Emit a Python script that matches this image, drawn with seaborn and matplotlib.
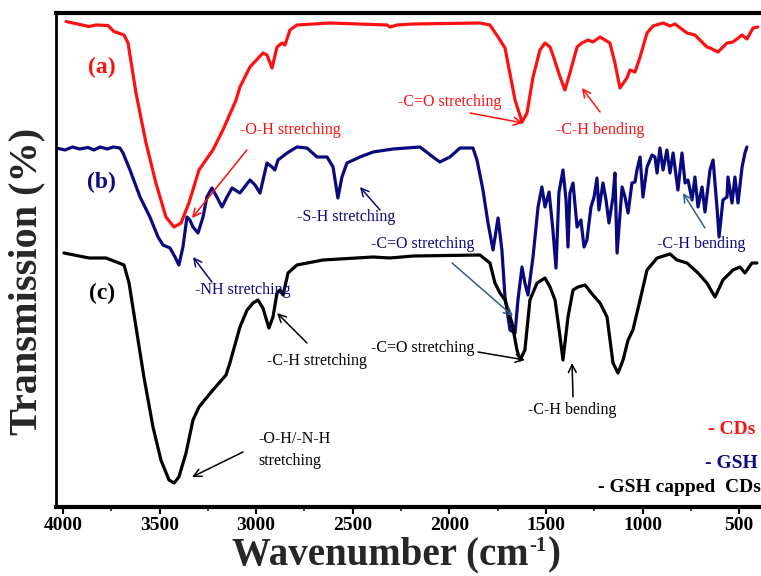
import numpy as np
import pandas as pd
import matplotlib
matplotlib.use("Agg")
import matplotlib.pyplot as plt
import seaborn as sns

# ---------------- data ----------------
cds_wn = [3984, 3865, 3829, 3767, 3736, 3684, 3663, 3622, 3570, 3519, 3467, 3425, 3389, 3348,
          3296, 3224, 3172, 3104, 3084, 3032, 2965, 2944, 2918, 2892, 2866, 2851, 2825, 2789,
          2618, 2323, 2307, 2271, 2188, 1842, 1790, 1748, 1712, 1697, 1660, 1624, 1598, 1567,
          1531, 1505, 1479, 1464, 1427, 1402, 1376, 1339, 1314, 1282, 1257, 1220, 1169, 1143,
          1117, 1081, 1065, 1039, 1013, 977, 946, 894, 858, 832, 770, 729, 667, 651, 610, 563,
          532, 485, 460, 428, 403]
cds_t = [97.7, 96.7, 97.0, 96.9, 95.7, 95.0, 93.4, 83.4, 73.4, 65.4, 58.6, 56.6, 57.4, 61.4,
         68.0, 72.0, 76.0, 82.0, 84.6, 88.6, 91.4, 91.0, 88.4, 92.6, 93.4, 93.0, 96.0, 97.0,
         97.4, 97.0, 96.6, 97.0, 97.2, 97.4, 97.0, 94.6, 92.4, 89.4, 82.0, 77.6, 79.4, 86.6,
         92.0, 93.4, 92.6, 91.0, 86.6, 84.0, 87.4, 92.6, 93.4, 94.0, 93.6, 94.6, 93.4, 89.4,
         84.4, 86.4, 88.0, 87.6, 90.6, 95.4, 96.8, 97.4, 96.8, 97.2, 95.4, 95.0, 92.6, 92.4,
         91.6, 93.4, 93.6, 95.0, 94.2, 96.4, 96.6]

gsh_wn = [4035, 3990, 3950, 3914, 3870, 3840, 3808, 3770, 3740, 3705, 3689, 3653, 3601, 3550,
          3508, 3482, 3446, 3420, 3400, 3379, 3358, 3343, 3327, 3301, 3275, 3255, 3229, 3203,
          3177, 3151, 3125, 3084, 3032, 3006, 2980, 2944, 2918, 2903, 2887, 2840, 2789, 2737,
          2685, 2633, 2602, 2577, 2556, 2530, 2463, 2395, 2292, 2152, 2085, 2049, 1997, 1945,
          1878, 1857, 1826, 1800, 1774, 1748, 1728, 1712, 1686, 1660, 1645, 1624, 1609, 1593,
          1567, 1541, 1521, 1505, 1484, 1464, 1448, 1433, 1412, 1396, 1386, 1376, 1360, 1339,
          1319, 1303, 1288, 1267, 1251, 1236, 1226, 1205, 1189, 1174, 1153, 1143, 1132, 1106,
          1091, 1075, 1055, 1039, 1029, 1013, 998, 977, 951, 936, 925, 910, 894, 874, 858, 842,
          817, 796, 780, 765, 744, 729, 713, 692, 677, 651, 635, 615, 604, 584, 563, 558, 537,
          522, 506, 485, 470, 460]
gsh_t = [72.4, 72.0, 72.6, 72.2, 72.5, 72.0, 72.6, 72.2, 72.6, 72.4, 71.4, 68.0, 62.6, 58.6,
         54.6, 53.0, 52.4, 50.6, 49.0, 52.6, 58.6, 58.0, 56.6, 55.4, 58.6, 62.6, 64.4, 62.6,
         60.6, 62.6, 64.4, 63.4, 66.0, 65.0, 63.4, 69.4, 68.6, 68.0, 70.0, 71.4, 72.6, 72.4,
         70.6, 70.6, 68.6, 62.4, 66.6, 69.4, 70.6, 71.6, 72.2, 72.6, 70.6, 69.6, 70.6, 72.4,
         72.4, 70.0, 64.0, 57.4, 52.0, 58.4, 52.0, 42.6, 36.0, 35.4, 42.0, 48.6, 45.4, 43.0,
         50.6, 60.6, 64.6, 60.6, 63.6, 56.0, 48.4, 63.4, 68.0, 62.0, 52.6, 63.4, 65.4, 56.6,
         58.0, 52.6, 54.0, 60.6, 62.6, 66.4, 60.0, 65.4, 62.0, 57.4, 62.6, 67.4, 51.4, 64.6,
         62.6, 59.4, 65.4, 65.6, 68.0, 70.6, 62.6, 68.6, 71.0, 70.6, 67.4, 72.4, 68.0, 72.0,
         67.4, 71.4, 64.0, 71.4, 65.4, 66.0, 62.0, 66.6, 60.6, 64.6, 59.6, 68.0, 70.0, 60.6,
         54.6, 62.0, 62.6, 66.6, 61.4, 66.6, 61.4, 68.6, 71.4, 72.6]

cap_wn = [3995, 3865, 3777, 3710, 3684, 3658, 3622, 3581, 3534, 3493, 3451, 3425, 3400, 3363,
          3327, 3296, 3224, 3156, 3136, 3084, 3047, 3016, 2991, 2965, 2934, 2913, 2892, 2877,
          2861, 2835, 2789, 2654, 2395, 2307, 2188, 1842, 1790, 1764, 1738, 1712, 1676, 1650,
          1634, 1609, 1583, 1546, 1505, 1479, 1453, 1427, 1412, 1386, 1360, 1334, 1298, 1257,
          1220, 1184, 1153, 1127, 1101, 1075, 1050, 1013, 977, 925, 858, 822, 770, 713, 667,
          625, 584, 532, 496, 470, 434, 408]
cap_t = [51.4, 50.4, 50.4, 49.4, 49.0, 45.4, 36.6, 26.6, 16.6, 10.0, 6.0, 5.4, 6.6, 11.4,
         18.0, 20.6, 24.0, 27.0, 29.4, 36.6, 40.0, 41.4, 42.0, 40.4, 36.4, 38.6, 43.4, 44.0,
         43.0, 47.4, 49.0, 50.0, 50.6, 50.4, 50.8, 51.0, 49.4, 45.4, 43.4, 42.0, 37.4, 32.0,
         30.0, 32.0, 42.0, 45.4, 46.4, 44.6, 42.0, 34.6, 30.0, 38.6, 44.0, 44.6, 45.0, 43.0,
         41.4, 38.6, 29.4, 27.4, 30.0, 34.0, 36.0, 42.0, 48.0, 50.4, 51.2, 50.0, 49.4, 47.4,
         45.4, 42.6, 46.0, 48.0, 48.6, 47.4, 49.4, 49.4]

x_ticks = [4000, 3500, 3000, 2500, 2000, 1500, 1000, 500]
legend_labels = ["- CDs", "- GSH", "- GSH capped  CDs"]

RED = "#ff1010"
NAVY = "#0a0a80"
BLACK = "#000000"
STEEL = "#2f5f8a"

# ---------------- styling ----------------
sns.set_theme(style="white")
plt.rcParams["font.family"] = ["Liberation Serif", "DejaVu Serif"]

fig = plt.figure(figsize=(7.61, 5.76), dpi=100)
ax = fig.add_axes([56 / 761, (576 - 507) / 576, 1 - 56 / 761, (507 - 13) / 576])

for wn, t, c in [(cds_wn, cds_t, RED), (gsh_wn, gsh_t, NAVY), (cap_wn, cap_t, BLACK)]:
    df = pd.DataFrame({"wn": wn, "t": t})
    sns.lineplot(data=df, x="wn", y="t", ax=ax, color=c, lw=2.3, sort=False,
                 estimator=None)

ax.set_xlim(4036, 387)
ax.set_ylim(0.6, 99.4)
ax.set_xticks(x_ticks)
ax.set_xticks(np.arange(3750, 300, -500), minor=True)
ax.set_xticklabels([str(v) for v in x_ticks], fontsize=14, fontweight="bold")
ax.set_yticks([])
ax.tick_params(axis="x", which="major", direction="out", length=5, width=1.5,
               bottom=True, pad=2, colors="black")
ax.tick_params(axis="x", which="minor", direction="out", length=3, width=1.2,
               bottom=True)
ax.set_xlabel("")
ax.set_ylabel("")

for s in ["top", "bottom", "left"]:
    ax.spines[s].set_visible(True)
    ax.spines[s].set_color("black")
ax.spines["top"].set_linewidth(3)
ax.spines["bottom"].set_linewidth(3)
ax.spines["left"].set_linewidth(2)
ax.spines["right"].set_visible(False)

# axis titles
fig.text(27 / 761, 1 - 281 / 576, "Transmission (%)", rotation=90, fontsize=29,
         fontweight="bold", ha="center", va="center")

base_y = (576 - 564) / 576
t1 = fig.text(232 / 761, base_y, "Wavenumber (cm", fontsize=28, fontweight="bold",
              ha="left", va="baseline")
fig.canvas.draw()
r = fig.canvas.get_renderer()
bb = t1.get_window_extent(renderer=r)
x_sup = bb.x1 / fig.bbox.width
t2 = fig.text(x_sup + 1 / 761, base_y + 13 / 576, "-1", fontsize=15, fontweight="bold",
              ha="left", va="baseline")
bb2 = t2.get_window_extent(renderer=r)
fig.text(bb2.x1 / fig.bbox.width + 1 / 761, base_y, ")", fontsize=28, fontweight="bold",
         ha="left", va="baseline")

# series tags
ax.text(3800, 88.6, "(a)", color=RED, fontsize=17, fontweight="bold", ha="center", va="center")
ax.text(3800, 65.6, "(b)", color=NAVY, fontsize=17, fontweight="bold", ha="center", va="center")
ax.text(3800, 43.4, "(c)", color=BLACK, fontsize=17, fontweight="bold", ha="center", va="center")

# annotations: (text, color, text pos, arrow tail, arrow head, arrow color)
ann = [
    ("-O-H stretching", RED, (3084, 76.0), (3048, 72.0), (3332, 58.4), RED),
    ("-C=O stretching", RED, (2266, 81.6), (1893, 79.4), (1619, 77.4), RED),
    ("-C-H bending", RED, (1448, 76.0), (1220, 79.6), (1314, 84.4), RED),
    ("-S-H stretching", NAVY, (2789, 58.6), (2359, 60.0), (2463, 64.6), NAVY),
    ("-NH stretching", NAVY, (3317, 44.0), (3229, 45.6), (3327, 50.6), NAVY),
    ("-C=O stretching", NAVY, (2406, 53.2), (1986, 49.4), (1671, 38.8), STEEL),
    ("-C-H bending", NAVY, (925, 53.2), (677, 56.4), (791, 63.4), STEEL),
    ("-C-H stretching", BLACK, (2944, 29.8), (2737, 33.4), (2892, 39.4), BLACK),
    ("-C=O stretching", BLACK, (2406, 32.4), (1852, 31.6), (1609, 30.0), BLACK),
    ("-C-H bending", BLACK, (1593, 20.0), (1360, 22.6), (1365, 29.4), BLACK),
    ("-O-H/-N-H\nstretching", BLACK, (2991, 12.0), (3068, 11.6), (3332, 6.6), BLACK),
]
for txt, col, pos, tail, head, acol in ann:
    ax.text(pos[0], pos[1], txt, color=col, fontsize=11.5, ha="left", va="center",
            linespacing=1.5)
    ax.annotate("", xy=head, xytext=tail,
                arrowprops=dict(arrowstyle="->", color=acol, lw=1.1,
                                mutation_scale=14, shrinkA=0, shrinkB=0))

# legend texts
ax.text(0.992, (507 - 430) / 494, legend_labels[0], color=RED, fontsize=14,
        fontweight="bold", ha="right", va="center", transform=ax.transAxes)
ax.text(0.995, (507 - 463) / 494, legend_labels[1], color=NAVY, fontsize=14,
        fontweight="bold", ha="right", va="center", transform=ax.transAxes)
ax.text(1.0, (507 - 487) / 494, legend_labels[2], color=BLACK, fontsize=14,
        fontweight="bold", ha="right", va="center", transform=ax.transAxes)

fig.savefig("out.png", dpi=100)
